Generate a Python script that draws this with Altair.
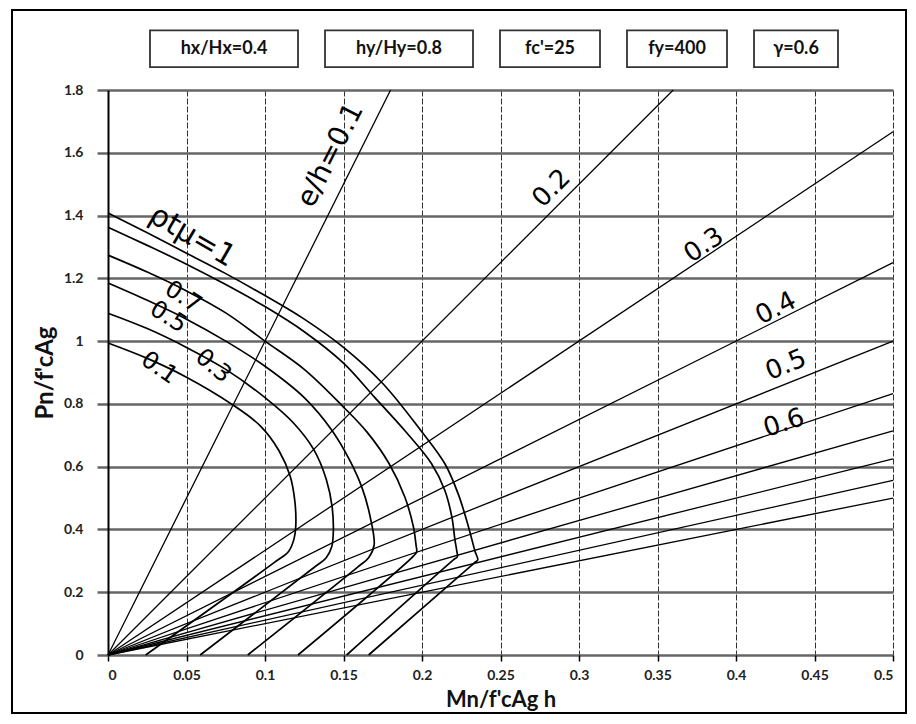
import altair as alt
import pandas as pd

# ---------------- data ----------------
# interaction curves, one per reinforcement index (rho_t * mu)
curve_names = ["0.1", "0.3", "0.5", "0.7", "0.9", "1.0"]

c01_m = [0, 0.025, 0.05, 0.0785, 0.097, 0.109, 0.116, 0.119, 0.1196, 0.1185, 0.115, 0.106, 0.024]
c01_p = [0.994, 0.945, 0.885, 0.80, 0.73, 0.65, 0.57, 0.49, 0.41, 0.37, 0.33, 0.295, 0]

c03_m = [0, 0.025, 0.05, 0.075, 0.1, 0.118, 0.131, 0.139, 0.1428, 0.1435, 0.1425, 0.139, 0.131, 0.0587]
c03_p = [1.089, 1.04, 0.98, 0.91, 0.82, 0.74, 0.655, 0.56, 0.47, 0.39, 0.345, 0.31, 0.278, 0]

c05_m = [0, 0.025, 0.05, 0.075, 0.1, 0.125, 0.142, 0.154, 0.162, 0.167, 0.1695, 0.166, 0.159, 0.089]
c05_p = [1.185, 1.13, 1.07, 1.0, 0.92, 0.82, 0.72, 0.62, 0.53, 0.44, 0.35, 0.31, 0.28, 0]

c07_m = [0, 0.025, 0.05, 0.075, 0.1, 0.125, 0.15, 0.165, 0.179, 0.189, 0.1945, 0.1962, 0.1966, 0.1945, 0.121]
c07_p = [1.274, 1.22, 1.16, 1.09, 1.0, 0.91, 0.79, 0.71, 0.61, 0.504, 0.409, 0.35, 0.329, 0.315, 0]

c09_m = [0, 0.025, 0.05, 0.075, 0.1, 0.125, 0.15, 0.17, 0.189, 0.206, 0.2145, 0.219, 0.221, 0.2222, 0.2225, 0.2200, 0.152]
c09_p = [1.363, 1.305, 1.245, 1.18, 1.11, 1.03, 0.93, 0.82, 0.715, 0.61, 0.525, 0.44, 0.366, 0.33, 0.313, 0.303, 0]

c10_m = [0, 0.025, 0.05, 0.075, 0.1, 0.125, 0.15, 0.175, 0.199, 0.2145, 0.223, 0.229, 0.2338, 0.2355, 0.2332, 0.166]
c10_p = [1.408, 1.345, 1.28, 1.215, 1.145, 1.07, 0.98, 0.865, 0.717, 0.61, 0.514, 0.419, 0.33, 0.303, 0.293, 0]

# radial eccentricity lines e/h, from the origin to where they leave the plot
eh_values = [0.1, 0.2, 0.3, 0.4, 0.5, 0.6, 0.7, 0.8, 0.9, 1.0]
eh_end_m = [0.18, 0.36, 0.5, 0.5, 0.5, 0.5, 0.5, 0.5, 0.5, 0.5]
eh_end_p = [1.8, 1.8, 1.667, 1.25, 1.0, 0.833, 0.714, 0.625, 0.556, 0.5]

# axis ticks
x_ticks = [0, 0.05, 0.1, 0.15, 0.2, 0.25, 0.3, 0.35, 0.4, 0.45, 0.5]
y_ticks = [0, 0.2, 0.4, 0.6, 0.8, 1.0, 1.2, 1.4, 1.6, 1.8]

# header boxes
header_texts = ["hx/Hx=0.4", "hy/Hy=0.8", "fc'=25", "fy=400", "γ=0.6"]

# handwritten annotations (text and anchor in data units)
eh_label_texts = ["e/h=0.1", "0.2", "0.3", "0.4", "0.5", "0.6"]
eh_label_m = [0.142, 0.2825, 0.3795, 0.4254, 0.4318, 0.4305]
eh_label_p = [1.592, 1.487, 1.306, 1.105, 0.924, 0.739]

rho_label_texts = ["ρtμ=1", "0.7", "0.5", "0.3", "0.1"]
rho_label_m = [0.0536, 0.0478, 0.0383, 0.0670, 0.0325]
rho_label_p = [1.334, 1.140, 1.076, 0.920, 0.914]

# ---------------- tables ----------------
curves_m = [c01_m, c03_m, c05_m, c07_m, c09_m, c10_m]
curves_p = [c01_p, c03_p, c05_p, c07_p, c09_p, c10_p]
rows = []
for name, ms, ps in zip(curve_names, curves_m, curves_p):
    for i, (m, p) in enumerate(zip(ms, ps)):
        rows.append({"curve": name, "idx": i, "m": m, "p": p})
curves_df = pd.DataFrame(rows)

rows = []
for e, m, p in zip(eh_values, eh_end_m, eh_end_p):
    rows.append({"eh": e, "idx": 0, "m": 0.0, "p": 0.0})
    rows.append({"eh": e, "idx": 1, "m": m, "p": p})
eh_df = pd.DataFrame(rows)

# ---------------- scales / axes ----------------
FONT = "Lato"
xs = alt.Scale(domain=[0, 0.5], nice=False, zero=False)
ys = alt.Scale(domain=[0, 1.8], nice=False, zero=False)
x_axis = alt.Axis(values=x_ticks, format="~g", title="Mn/f'cAg h",
                  grid=True, gridColor="#333333", gridWidth=1, gridDash=[6, 2],
                  domain=False, tickColor="black", tickSize=6, tickWidth=1.5,
                  labelPadding=7, labelFontSize=14, labelFont=FONT, labelFontWeight="bold",
                  labelColor="#222222", titleFont=FONT, titleFontSize=22, titleFontWeight="bold",
                  titlePadding=7, titleColor="#111111")
y_axis = alt.Axis(values=y_ticks, format="~g", title="Pn/f'cAg",
                  grid=True, gridColor="#666666", gridWidth=2.5,
                  domain=True, domainColor="black", domainWidth=2,
                  tickColor="#666666", tickSize=11, tickWidth=2.5,
                  labelPadding=14, labelFontSize=14, labelFont=FONT, labelFontWeight="bold",
                  labelColor="#222222", titleFont=FONT, titleFontSize=24, titleFontWeight="bold",
                  titlePadding=6, titleColor="#111111")
X = alt.X("m:Q", scale=xs, axis=x_axis)
Y = alt.Y("p:Q", scale=ys, axis=y_axis)

radial = alt.Chart(eh_df).mark_line(color="black", strokeWidth=1.3).encode(
    x=X, y=Y, detail="eh:N", order="idx:Q")

curves = alt.Chart(curves_df).mark_line(
    color="black", strokeWidth=1.7, interpolate="catmull-rom").encode(
    x=X, y=Y, detail="curve:N", order="idx:Q")

layers = [radial, curves]

eh_angles = [297, 315, 326, 333, 338, 342]
eh_sizes = [28, 26, 26, 26, 26, 26]
for t, m, p, a, s in zip(eh_label_texts, eh_label_m, eh_label_p, eh_angles, eh_sizes):
    layers.append(alt.Chart(pd.DataFrame({"t": [t], "m": [m], "p": [p]})).mark_text(
        angle=a, fontSize=s, font="DejaVu Sans", color="black", align="center",
        baseline="middle").encode(x=X, y=Y, text="t:N"))

rho_angles = [30, 32, 32, 40, 35]
rho_sizes = [30, 24, 24, 24, 24]
for t, m, p, a, s in zip(rho_label_texts, rho_label_m, rho_label_p, rho_angles, rho_sizes):
    layers.append(alt.Chart(pd.DataFrame({"t": [t], "m": [m], "p": [p]})).mark_text(
        angle=a, fontSize=s, font="DejaVu Sans", color="black", align="center",
        baseline="middle").encode(x=X, y=Y, text="t:N"))

# header boxes laid out from their text lengths (in x data units)
PX = 0.5 / 785.0
start, gap = 42 * PX, 27 * PX
hx1, hx2 = [], []
cur = start
for t in header_texts:
    w = (16 * len(t) + 4) * PX
    hx1.append(cur)
    hx2.append(cur + w)
    cur += w + gap
head_df = pd.DataFrame({"t": header_texts, "x1": hx1, "x2": hx2,
                        "xc": [(a + b) / 2 for a, b in zip(hx1, hx2)]})
box_top, box_bot, box_mid = 1.990, 1.873, 1.932
head_box = alt.Chart(head_df).mark_rect(fill="white", stroke="#333333", strokeWidth=1.8).encode(
    x=alt.X("x1:Q", scale=xs, axis=x_axis), x2="x2:Q",
    y=alt.datum(box_top, scale=ys), y2=alt.datum(box_bot))
head_txt = alt.Chart(head_df).mark_text(fontSize=18, font=FONT, fontWeight="bold",
                                        color="#111111", baseline="middle").encode(
    x=alt.X("xc:Q", scale=xs, axis=x_axis), y=alt.datum(box_mid, scale=ys), text="t:N")
layers += [head_box, head_txt]

frame = alt.Chart(pd.DataFrame({"a": [0]})).mark_rect(
    fillOpacity=0, stroke="black", strokeWidth=2).encode(
    x=alt.value(-96), x2=alt.value(798), y=alt.value(-80), y2=alt.value(623))
layers.append(frame)

chart = alt.layer(*layers).properties(
    width=785, height=565,
    padding={"left": 3, "top": 1, "right": 0, "bottom": 0},
    background="white",
).configure_view(stroke="transparent")

chart.save("out.html", embed_options={"renderer": "svg", "actions": False})
